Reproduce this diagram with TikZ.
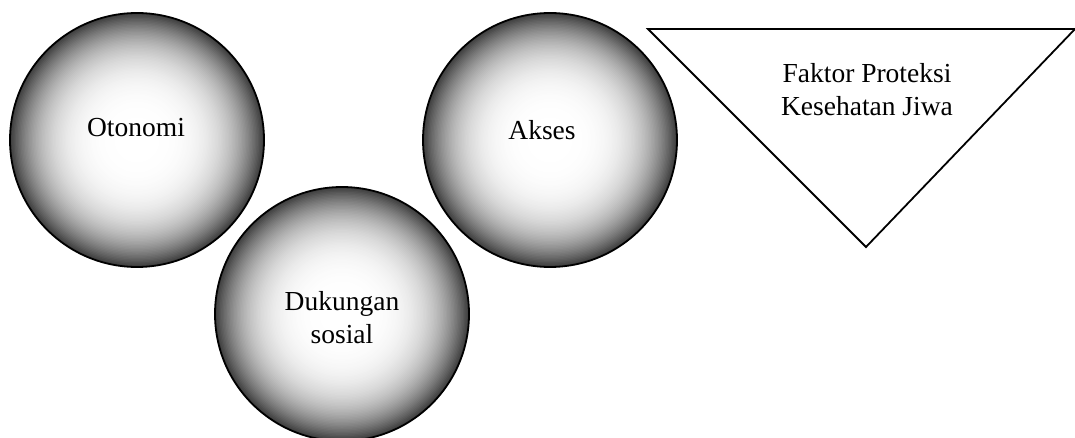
\documentclass[tikz,border=0pt]{standalone}
\usepackage{fontspec}
\setmainfont{Liberation Serif}
\tikzset{
  ball/.style={circle, draw=black, line width=1.8pt,
    minimum size=254pt, inner sep=0pt,
    path picture={
      \foreach \k in {0,...,90}{
        \pgfmathsetmacro\tt{1-\k/90}
        \pgfmathsetmacro\pc{78*(\tt^3.67)}
        \fill[black!\pc] (path picture bounding box.center) circle ({128*\tt pt});
      }
    }},
  lbl/.style={font=\fontsize{27.5}{33}\selectfont, align=center, inner sep=0pt},
  tri/.style={draw=black, line width=1.8pt, line join=miter}
}
\begin{document}
\begin{tikzpicture}[x=1pt,y=-1pt]
\useasboundingbox (0,0) rectangle (1075,438);
% circles
\node[ball] (oto) at (137,140) {};
\node[ball] (duk) at (342,314) {};
\node[ball] (aks) at (550,140) {};
% labels
\node[lbl, anchor=base] (totono) at (136,137) {Otonomi};
\node[lbl] (tduk) at (342,318) {Dukungan\\sosial};
\node[lbl, anchor=base] (taks) at (542,140) {Akses};
% triangle
\coordinate (tl) at (648,29);
\coordinate (tr) at (1075,29);
\coordinate (tb) at (866,247);
\draw[tri] (tl) -- (tr) -- (tb) -- cycle;
\node[lbl] (tfak) at (867,90) {Faktor Proteksi\\Kesehatan Jiwa};
\end{tikzpicture}
\end{document}
